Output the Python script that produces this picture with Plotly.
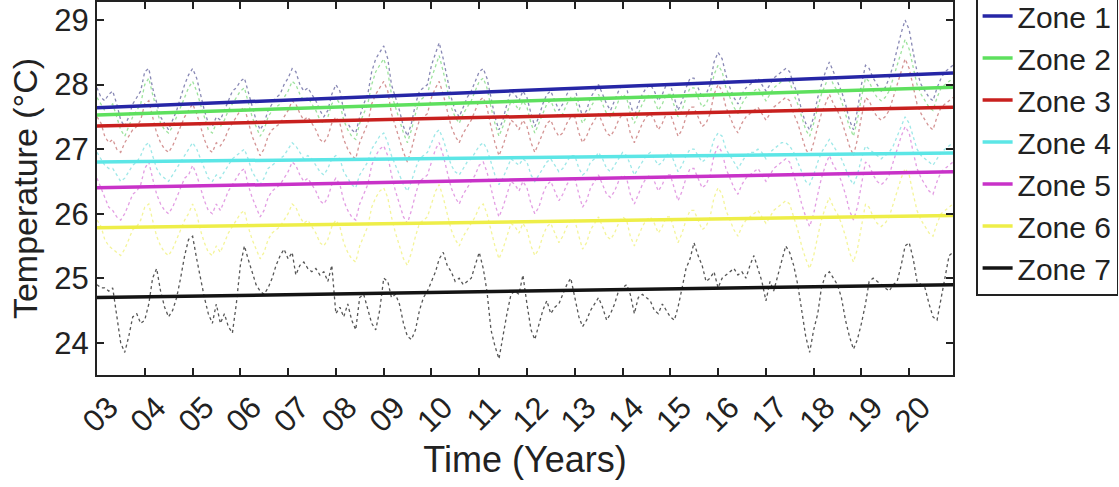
import pandas as pd
import plotly.graph_objects as go

# Monthly sea-surface temperature per zone, Jan 2003 - Dec 2020 (one row per year)
zone1_temp = [
    27.95, 27.8, 27.75, 27.85, 27.9, 27.7, 27.45, 27.35, 27.5, 27.7, 27.8, 27.9,
    28.2, 28.25, 27.95, 27.7, 27.5, 27.4, 27.3, 27.45, 27.6, 27.8, 28.0, 28.15,
    28.25, 28.1, 27.85, 27.6, 27.4, 27.35, 27.5, 27.45, 27.6, 27.75, 27.9, 27.95,
    28.05, 28.1, 27.9, 27.65, 27.45, 27.3, 27.4, 27.6, 27.7, 27.8, 27.85, 28.0,
    28.1, 28.25, 28.2, 28.0, 27.9, 27.95, 27.85, 27.75, 27.6, 27.5, 27.6, 27.85,
    28.0, 27.9, 27.6, 27.4, 27.3, 27.25, 27.5, 27.7, 27.85, 28.2, 28.4, 28.5,
    28.6, 28.4, 28.0, 27.8, 27.6, 27.35, 27.2, 27.4, 27.7, 27.9, 27.95, 28.0,
    28.3, 28.5, 28.65, 28.4, 28.1, 27.8, 27.6, 27.5, 27.65, 27.8, 27.9, 28.05,
    28.2, 28.25, 28.1, 27.8, 27.5, 27.3, 27.45, 27.7, 27.9, 27.85, 27.75, 27.9,
    27.8, 27.55, 27.35, 27.5, 27.7, 27.85, 27.9, 27.75, 27.6, 27.7, 27.85, 27.95,
    27.95, 27.7, 27.5, 27.6, 27.8, 27.9, 28.0, 27.85, 27.7, 27.6, 27.75, 27.9,
    28.0, 27.95, 27.7, 27.5, 27.7, 27.85, 27.95, 28.0, 27.9, 27.75, 27.85, 28.0,
    28.0, 27.8, 27.6, 27.75, 27.95, 28.1, 28.1, 27.95, 27.8, 27.85, 28.0, 28.35,
    28.5, 28.4, 28.15, 27.95, 27.8, 27.7, 27.85, 27.95, 28.0, 28.05, 28.1, 28.0,
    27.9, 28.0, 28.1, 28.15, 28.2, 28.25, 28.2, 28.0, 27.85, 27.6, 27.4, 27.3,
    27.5, 27.8, 28.0, 28.2, 28.35, 28.2, 28.05, 27.9, 27.7, 27.45, 27.3, 27.6,
    28.0, 28.3, 28.25, 28.1, 28.0, 27.9, 27.95, 28.1, 28.3, 28.55, 28.8, 29.0,
    28.85, 28.5, 28.2, 28.0, 27.9, 27.8, 27.75, 27.95, 28.1, 28.2, 28.25, 28.3,
]
zone2_temp = [
    27.8, 27.7, 27.6, 27.65, 27.7, 27.5, 27.3, 27.2, 27.35, 27.5, 27.6, 27.7,
    28.0, 28.1, 27.85, 27.6, 27.4, 27.3, 27.25, 27.35, 27.5, 27.65, 27.8, 27.95,
    28.05, 27.9, 27.7, 27.5, 27.3, 27.25, 27.4, 27.35, 27.45, 27.6, 27.7, 27.8,
    27.9, 27.95, 27.75, 27.5, 27.35, 27.2, 27.3, 27.5, 27.6, 27.65, 27.7, 27.8,
    27.9, 28.05, 28.0, 27.85, 27.75, 27.8, 27.7, 27.6, 27.45, 27.4, 27.5, 27.7,
    27.8, 27.7, 27.45, 27.3, 27.2, 27.15, 27.4, 27.55, 27.7, 28.0, 28.2, 28.3,
    28.4, 28.2, 27.85, 27.65, 27.45, 27.25, 27.1, 27.3, 27.55, 27.75, 27.8, 27.85,
    28.1, 28.3, 28.45, 28.2, 27.95, 27.65, 27.5, 27.4, 27.55, 27.65, 27.75, 27.9,
    28.05, 28.1, 27.95, 27.65, 27.4, 27.2, 27.35, 27.55, 27.75, 27.7, 27.6, 27.75,
    27.65, 27.4, 27.25, 27.4, 27.55, 27.7, 27.75, 27.6, 27.5, 27.55, 27.7, 27.8,
    27.8, 27.55, 27.4, 27.5, 27.65, 27.75, 27.85, 27.7, 27.55, 27.5, 27.6, 27.75,
    27.85, 27.8, 27.55, 27.4, 27.55, 27.7, 27.8, 27.85, 27.75, 27.6, 27.7, 27.85,
    27.85, 27.65, 27.5, 27.6, 27.8, 27.95, 27.95, 27.8, 27.65, 27.7, 27.85, 28.15,
    28.3, 28.2, 27.95, 27.8, 27.65, 27.55, 27.7, 27.8, 27.85, 27.9, 27.95, 27.85,
    27.75, 27.85, 27.95, 28.0, 28.05, 28.1, 28.05, 27.85, 27.7, 27.5, 27.3, 27.2,
    27.4, 27.65, 27.85, 28.0, 28.15, 28.0, 27.9, 27.75, 27.55, 27.35, 27.2, 27.45,
    27.8, 28.1, 28.05, 27.9, 27.8, 27.75, 27.8, 27.9, 28.1, 28.3, 28.5, 28.7,
    28.55, 28.25, 28.0, 27.85, 27.75, 27.65, 27.6, 27.8, 27.95, 28.0, 28.05, 28.1,
]
zone3_temp = [
    27.5, 27.4, 27.2, 27.1, 27.15, 27.0, 26.95, 27.1, 27.2, 27.3, 27.35, 27.45,
    27.7, 27.75, 27.5, 27.25, 27.1, 27.0, 26.95, 27.05, 27.2, 27.35, 27.5, 27.6,
    27.7, 27.55, 27.35, 27.15, 27.0, 26.95, 27.1, 27.05, 27.15, 27.3, 27.4, 27.5,
    27.6, 27.65, 27.45, 27.2, 27.05, 26.9, 27.0, 27.2, 27.3, 27.35, 27.4, 27.5,
    27.6, 27.75, 27.7, 27.55, 27.45, 27.5, 27.4, 27.3, 27.15, 27.1, 27.2, 27.4,
    27.5, 27.4, 27.15, 27.0, 26.9, 26.85, 27.1, 27.25, 27.4, 27.7, 27.85, 27.95,
    28.05, 27.9, 27.55, 27.35, 27.15, 26.95, 26.8, 27.0, 27.25, 27.45, 27.5, 27.55,
    27.8, 27.95, 28.05, 27.85, 27.6, 27.35, 27.2, 27.1, 27.25, 27.35, 27.45, 27.6,
    27.75, 27.8, 27.65, 27.35, 27.1, 26.9, 27.05, 27.25, 27.45, 27.4, 27.3, 27.45,
    27.35, 27.1, 26.95, 27.1, 27.25, 27.4, 27.45, 27.3, 27.2, 27.25, 27.4, 27.5,
    27.5, 27.25, 27.1, 27.2, 27.35, 27.45, 27.55, 27.4, 27.25, 27.2, 27.3, 27.45,
    27.55, 27.5, 27.25, 27.1, 27.25, 27.4, 27.5, 27.55, 27.45, 27.3, 27.4, 27.55,
    27.55, 27.35, 27.2, 27.3, 27.5, 27.65, 27.65, 27.5, 27.35, 27.4, 27.55, 27.85,
    28.0, 27.9, 27.65, 27.5, 27.35, 27.25, 27.4, 27.5, 27.55, 27.6, 27.65, 27.55,
    27.45, 27.55, 27.65, 27.7, 27.75, 27.8, 27.75, 27.55, 27.4, 27.2, 27.0, 26.9,
    27.1, 27.35, 27.55, 27.7, 27.85, 27.7, 27.6, 27.45, 27.25, 27.05, 26.9, 27.15,
    27.5, 27.8, 27.75, 27.6, 27.5, 27.45, 27.5, 27.6, 27.8, 28.0, 28.2, 28.4,
    28.25, 27.95, 27.7, 27.55, 27.45, 27.35, 27.3, 27.5, 27.65, 27.7, 27.75, 27.8,
]
zone4_temp = [
    26.95, 26.85, 26.75, 26.7, 26.7, 26.6, 26.5, 26.55, 26.65, 26.75, 26.8, 26.9,
    27.05, 27.1, 26.9, 26.7, 26.6, 26.55, 26.5, 26.6, 26.7, 26.8, 26.9, 27.0,
    27.1, 27.0, 26.85, 26.7, 26.55, 26.5, 26.6, 26.55, 26.65, 26.75, 26.85, 26.9,
    26.95, 27.0, 26.85, 26.65, 26.55, 26.45, 26.55, 26.7, 26.75, 26.8, 26.85, 26.9,
    27.0, 27.1, 27.05, 26.95, 26.85, 26.9, 26.85, 26.75, 26.65, 26.6, 26.7, 26.85,
    26.9, 26.85, 26.65, 26.55, 26.45, 26.4, 26.6, 26.7, 26.8, 27.0, 27.1, 27.2,
    27.25, 27.1, 26.9, 26.75, 26.6, 26.45, 26.35, 26.5, 26.7, 26.85, 26.9, 26.95,
    27.1, 27.25, 27.3, 27.15, 26.95, 26.75, 26.65, 26.6, 26.7, 26.8, 26.85, 26.95,
    27.05, 27.1, 27.0, 26.8, 26.6, 26.45, 26.55, 26.7, 26.85, 26.8, 26.75, 26.85,
    26.8, 26.6, 26.5, 26.6, 26.7, 26.8, 26.85, 26.75, 26.65, 26.7, 26.8, 26.9,
    26.9, 26.7, 26.6, 26.65, 26.8, 26.85, 26.95, 26.85, 26.7, 26.65, 26.75, 26.85,
    26.95, 26.9, 26.75, 26.6, 26.7, 26.8, 26.9, 26.95, 26.85, 26.75, 26.8, 26.9,
    26.95, 26.8, 26.65, 26.75, 26.9, 27.0, 27.0, 26.9, 26.8, 26.85, 26.95, 27.15,
    27.25, 27.2, 27.0, 26.9, 26.8, 26.7, 26.8, 26.9, 26.95, 26.95, 27.0, 26.95,
    26.85, 26.95, 27.0, 27.05, 27.1, 27.1, 27.05, 26.95, 26.8, 26.65, 26.5, 26.45,
    26.6, 26.8, 26.95, 27.05, 27.15, 27.05, 26.95, 26.85, 26.7, 26.55, 26.45, 26.6,
    26.85, 27.05, 27.0, 26.95, 26.9, 26.85, 26.9, 26.95, 27.05, 27.2, 27.35, 27.5,
    27.4, 27.2, 27.0, 26.9, 26.85, 26.8, 26.75, 26.85, 26.95, 27.0, 27.05, 27.1,
]
zone5_temp = [
    26.55, 26.4, 26.25, 26.1, 26.05, 25.95, 25.9, 26.0, 26.15, 26.3, 26.35, 26.45,
    26.7, 26.8, 26.55, 26.3, 26.15, 26.05, 26.0, 26.1, 26.25, 26.4, 26.55, 26.6,
    26.75, 26.6, 26.4, 26.2, 26.05, 26.0, 26.15, 26.05, 26.2, 26.35, 26.45, 26.55,
    26.65, 26.7, 26.45, 26.25, 26.1, 25.95, 26.05, 26.25, 26.35, 26.4, 26.45, 26.55,
    26.65, 26.8, 26.75, 26.6, 26.5, 26.55, 26.45, 26.35, 26.2, 26.15, 26.25, 26.45,
    26.55, 26.45, 26.2, 26.05, 25.95, 25.9, 26.15, 26.3, 26.45, 26.75, 26.9, 27.0,
    27.05, 26.9, 26.6, 26.35, 26.15, 25.95, 25.85, 26.05, 26.3, 26.5, 26.55, 26.6,
    26.8, 27.0, 27.1, 26.9, 26.65, 26.4, 26.25, 26.15, 26.3, 26.4, 26.5, 26.6,
    26.75, 26.8, 26.65, 26.4, 26.15, 25.95, 26.1, 26.3, 26.5, 26.45, 26.35, 26.5,
    26.4, 26.15, 26.0, 26.1, 26.3, 26.45, 26.5, 26.35, 26.2, 26.3, 26.45, 26.55,
    26.55, 26.3, 26.1, 26.2, 26.4, 26.5, 26.6, 26.45, 26.3, 26.25, 26.35, 26.5,
    26.6, 26.55, 26.3, 26.15, 26.3, 26.45, 26.55, 26.6, 26.5, 26.35, 26.45, 26.6,
    26.6, 26.4, 26.2, 26.35, 26.55, 26.7, 26.7, 26.55, 26.4, 26.45, 26.6, 26.9,
    27.05, 26.95, 26.7, 26.55, 26.4, 26.3, 26.45, 26.55, 26.6, 26.65, 26.7, 26.6,
    26.5, 26.6, 26.7, 26.75, 26.8, 26.85, 26.8, 26.6, 26.4, 26.15, 25.95, 25.8,
    26.0, 26.3, 26.55, 26.75, 26.9, 26.75, 26.65, 26.5, 26.3, 26.05, 25.9, 26.1,
    26.45, 26.8, 26.75, 26.6, 26.5, 26.45, 26.5, 26.6, 26.8, 27.0, 27.2, 27.35,
    27.25, 26.95, 26.7, 26.55, 26.45, 26.35, 26.3, 26.5, 26.65, 26.7, 26.75, 26.8,
]
zone6_temp = [
    25.9, 25.8, 25.6, 25.5, 25.45, 25.4, 25.35, 25.45, 25.6, 25.75, 25.8, 25.9,
    26.1, 26.15, 25.9, 25.65, 25.5, 25.4, 25.35, 25.45, 25.6, 25.75, 25.9, 26.0,
    26.15, 26.0, 25.75, 25.55, 25.4, 25.35, 25.5, 25.4, 25.55, 25.7, 25.8, 25.9,
    26.0, 26.05, 25.8, 25.6, 25.45, 25.3, 25.4, 25.6, 25.7, 25.75, 25.8, 25.9,
    26.0, 26.15, 26.1, 25.95, 25.85, 25.9, 25.8, 25.7, 25.55, 25.5, 25.6, 25.8,
    25.9, 25.8, 25.55, 25.4, 25.3, 25.25, 25.5, 25.65, 25.8, 26.1, 26.25, 26.35,
    26.4, 26.25, 25.95, 25.7, 25.5, 25.3, 25.2, 25.4, 25.65, 25.85, 25.9, 25.95,
    26.15, 26.35, 26.45, 26.25, 26.0, 25.75, 25.6, 25.5, 25.65, 25.75, 25.85, 25.95,
    26.1, 26.15, 26.0, 25.75, 25.5, 25.3, 25.45, 25.65, 25.85, 25.8, 25.7, 25.85,
    25.75, 25.5, 25.35, 25.45, 25.65, 25.8, 25.85, 25.7, 25.55, 25.65, 25.8, 25.9,
    25.9, 25.65, 25.45, 25.55, 25.75, 25.85, 25.95, 25.8, 25.65, 25.6, 25.7, 25.85,
    25.95, 25.9, 25.65, 25.5, 25.65, 25.8, 25.9, 25.95, 25.85, 25.7, 25.8, 25.95,
    25.95, 25.75, 25.55, 25.7, 25.9, 26.05, 26.05, 25.9, 25.75, 25.8, 25.95, 26.25,
    26.4, 26.3, 26.05, 25.9, 25.75, 25.65, 25.8, 25.9, 25.95, 26.0, 26.05, 25.95,
    25.85, 25.95, 26.05, 26.1, 26.15, 26.2, 26.15, 25.95, 25.75, 25.5, 25.3, 25.15,
    25.35, 25.65, 25.9, 26.1, 26.25, 26.1, 26.0, 25.85, 25.65, 25.4, 25.25, 25.45,
    25.8, 26.15, 26.1, 25.95, 25.85, 25.8, 25.85, 25.95, 26.15, 26.35, 26.55, 26.7,
    26.6, 26.3, 26.05, 25.9, 25.8, 25.7, 25.65, 25.85, 26.0, 26.05, 26.1, 26.15,
]
zone7_temp = [
    24.9, 24.85, 24.85, 24.8, 24.85, 24.4, 24.0, 23.85, 24.1, 24.4, 24.45, 24.3,
    24.35, 24.6, 25.0, 25.15, 24.8, 24.55, 24.4, 24.5, 24.7, 25.0, 25.35, 25.6,
    25.65, 25.3, 25.0, 24.7, 24.45, 24.3, 24.6, 24.3, 24.45, 24.25, 24.15, 24.6,
    25.2, 25.5, 25.3, 25.1, 24.9, 24.8, 24.75, 24.85, 25.0, 25.2, 25.35, 25.45,
    25.3, 25.4, 25.05, 25.2, 25.25, 25.15, 25.1, 25.15, 25.05, 25.1, 24.95, 25.2,
    24.45, 24.55, 24.4, 24.6, 24.35, 24.2, 24.7, 24.75, 24.5, 24.3, 24.2, 24.5,
    25.0, 24.95, 24.7, 24.75, 24.6, 24.3, 24.1, 24.05, 24.2, 24.5, 24.7, 24.8,
    24.95, 25.1, 25.3, 25.4, 25.2, 25.1, 24.95, 25.0, 24.9, 24.95, 25.0, 25.2,
    25.4, 25.15, 24.8, 24.2, 23.95, 23.75, 24.1, 24.45, 24.75, 24.8, 24.75, 25.05,
    24.6, 24.2, 24.05, 24.3, 24.5, 24.65, 24.45, 24.55, 24.6, 24.75, 24.9, 25.0,
    24.7, 24.4, 24.25, 24.35, 24.5, 24.6, 24.7, 24.55, 24.35, 24.45, 24.6, 24.8,
    24.85, 24.9, 24.75, 24.45, 24.7, 24.75, 24.7, 24.65, 24.5, 24.45, 24.6, 24.5,
    24.4, 24.35, 24.55, 24.85, 25.15, 25.3, 25.55, 25.35, 25.2, 24.95, 25.0, 25.1,
    24.85, 25.0, 25.05, 25.1, 25.15, 25.05, 25.1, 25.0, 25.2, 25.35, 25.15, 24.95,
    24.65, 24.95, 24.8, 25.05, 25.25, 25.5, 25.4, 25.2, 24.9, 24.5, 24.1, 23.85,
    24.2, 24.45, 24.85, 25.05, 25.1, 25.0, 24.9, 24.7, 24.35, 24.1, 23.9, 24.05,
    24.3, 24.6, 24.95, 25.0, 24.95, 24.9, 24.85, 24.8, 24.9, 24.95, 25.2, 25.5,
    25.55, 25.3, 24.95, 24.9, 24.85, 24.6, 24.4, 24.35, 24.7, 25.0, 25.35, 25.4,
]

zone_names = ["Zone 1", "Zone 2", "Zone 3", "Zone 4", "Zone 5", "Zone 6", "Zone 7"]
zone_series = [zone1_temp, zone2_temp, zone3_temp, zone4_temp,
               zone5_temp, zone6_temp, zone7_temp]
# Linear trend at the first and last month of the record
trend_start = [27.64, 27.53, 27.36, 26.80, 26.40, 25.78, 24.70]
trend_end = [28.18, 27.96, 27.65, 26.94, 26.65, 25.97, 24.90]

zone_colors = ["#2626a6", "#5ee05e", "#c8201e", "#5ce6e6",
               "#c832c8", "#eeee48", "#141414"]
data_colors = ["rgba(40,40,120,0.55)", "rgba(60,200,60,0.5)", "rgba(170,40,40,0.5)",
               "rgba(60,210,210,0.5)", "rgba(200,60,200,0.5)", "rgba(235,235,70,0.55)",
               "rgba(30,30,30,0.75)"]

months = pd.date_range("2003-01-01", "2020-12-01", freq="MS")

fig = go.Figure()

for name, series, color in zip(zone_names, zone_series, data_colors):
    fig.add_trace(go.Scatter(
        x=months, y=series, mode="lines",
        line=dict(color=color, width=1.3, dash="dot"),
        showlegend=False, hoverinfo="skip",
    ))

for i, name in enumerate(zone_names):
    fig.add_trace(go.Scatter(
        x=[months[0], months[-1]], y=[trend_start[i], trend_end[i]],
        mode="lines", name=name,
        line=dict(color=zone_colors[i], width=3.5),
        legendgroup=name,
    ))

axis_common = dict(
    showline=True, linecolor="#222222", linewidth=2, mirror="ticks",
    ticks="inside", ticklen=7, tickwidth=2, tickcolor="#222222",
    showgrid=False, zeroline=False,
    tickfont=dict(family="Liberation Sans", size=31, color="#222222"),
)

fig.update_layout(
    width=1119, height=487,
    margin=dict(l=97, r=166, t=2, b=112, autoexpand=False),
    paper_bgcolor="white", plot_bgcolor="white",
    font=dict(family="Liberation Sans", color="#222222"),
    xaxis=dict(
        type="date", range=[months[0], months[-1]],
        tick0="2003-01-01", dtick="M12", tickformat="%y", tickangle=-45,
        ticklabelshift=12,
        title=dict(text="Time (Years)", font=dict(size=36), standoff=4),
        **axis_common,
    ),
    yaxis=dict(
        range=[23.5, 29.28], dtick=1,
        title=dict(text="Temperature (°C)", font=dict(size=34), standoff=6),
        **axis_common,
    ),
    legend=dict(
        x=1.027, xanchor="left", y=1.036, yanchor="top",
        bordercolor="#222222", borderwidth=1.5, bgcolor="white",
        font=dict(family="Liberation Sans", size=30, color="#222222"),
        traceorder="normal", tracegroupgap=0, maxheight=480,
    ),
    showlegend=True,
)

fig.write_html("out.html")
